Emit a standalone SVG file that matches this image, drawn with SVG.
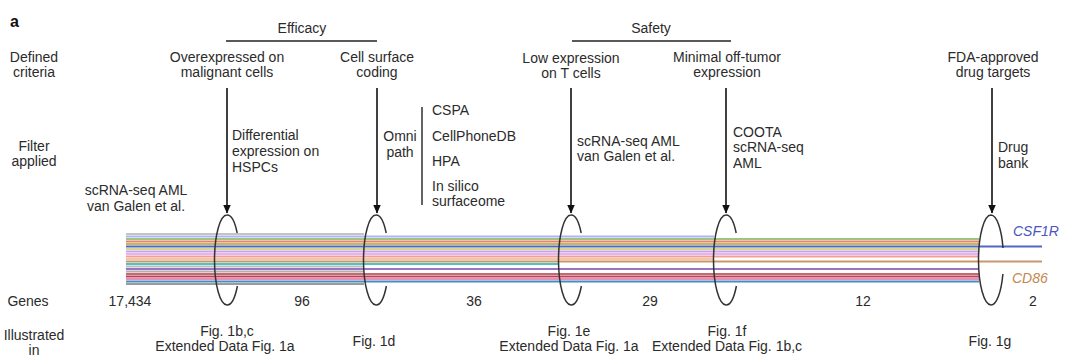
<svg xmlns="http://www.w3.org/2000/svg" width="1080" height="363" viewBox="0 0 1080 363">
<style>
text{font-family:"Liberation Sans",Arial,sans-serif;font-size:14px;fill:#2b2b2b}
.c{text-anchor:middle}
.arrow{stroke:#111;stroke-width:1.6;fill:none}
.ring{stroke:#333;stroke-width:1.5;fill:none}
.bar{stroke:#222;stroke-width:1.4}
.g{stroke-width:1.8;fill:none}
</style>
<defs>
<marker id="ah2" markerWidth="9" markerHeight="8" refX="8.5" refY="4" orient="auto" markerUnits="userSpaceOnUse">
<path d="M0,0 L9,4 L0,8 Z" fill="#111"/>
</marker>
</defs>
<rect width="1080" height="363" fill="#fff"/>
<text x="10" y="27" style="font-weight:bold;font-size:16px;fill:#111">a</text>

<g id="row-labels">
<text class="c" x="34" y="62">Defined</text><text class="c" x="34" y="77">criteria</text>
<text class="c" x="34" y="151">Filter</text><text class="c" x="34" y="166">applied</text>
<text class="c" x="28" y="306">Genes</text>
<text class="c" x="34" y="340">Illustrated</text><text class="c" x="34" y="355">in</text>
</g>

<g id="groups">
<text class="c" x="302" y="33">Efficacy</text>
<line x1="226" y1="41" x2="377" y2="41" class="bar"/>
<text class="c" x="651" y="33">Safety</text>
<line x1="572" y1="41" x2="731" y2="41" class="bar"/>
</g>

<g id="source">
<text class="c" x="136" y="195">scRNA-seq AML</text>
<text class="c" x="136" y="211">van Galen et al.</text>
</g>

<g id="genes-lines">
<line x1="126" y1="234" x2="364" y2="234" class="g" stroke="#c4c4c4"/>
<line x1="126" y1="236.5" x2="714" y2="236.5" class="g" stroke="#b0b4f4"/>
<line x1="126" y1="239" x2="979" y2="239" class="g" stroke="#9ec57f"/>
<line x1="126" y1="241.5" x2="979" y2="241.5" class="g" stroke="#ec806e"/>
<line x1="126" y1="244" x2="979" y2="244" class="g" stroke="#bcbc5c"/>
<line x1="126" y1="246.5" x2="1042" y2="246.5" class="g" stroke="#4f68c8"/>
<line x1="126" y1="249" x2="979" y2="249" class="g" stroke="#d6d68c"/>
<line x1="126" y1="251.5" x2="979" y2="251.5" class="g" stroke="#c9a3f2"/>
<line x1="126" y1="254" x2="979" y2="254" class="g" stroke="#e5b4f4"/>
<line x1="126" y1="256.5" x2="979" y2="256.5" class="g" stroke="#f3a090"/>
<line x1="126" y1="259" x2="714" y2="259" class="g" stroke="#f6c4aa"/>
<line x1="126" y1="261.5" x2="1042" y2="261.5" class="g" stroke="#c8986a"/>
<line x1="126" y1="264" x2="558" y2="264" class="g" stroke="#4fc3c3"/>
<line x1="126" y1="266.5" x2="364" y2="266.5" class="g" stroke="#bdbdbd"/>
<line x1="126" y1="269" x2="979" y2="269" class="g" stroke="#9a74c2"/>
<line x1="126" y1="271.5" x2="364" y2="271.5" class="g" stroke="#b0b0b0"/>
<line x1="126" y1="274" x2="979" y2="274" class="g" stroke="#c06c6c"/>
<line x1="126" y1="276.5" x2="979" y2="276.5" class="g" stroke="#c43c62"/>
<line x1="126" y1="279" x2="979" y2="279" class="g" stroke="#e494a8"/>
<line x1="126" y1="281.5" x2="979" y2="281.5" class="g" stroke="#4a8ac8"/>
<line x1="126" y1="284" x2="364" y2="284" class="g" stroke="#9a9a9a"/>
<text x="1013" y="236" style="font-style:italic;fill:#4a55c0">CSF1R</text>
<text x="1012" y="283" style="font-style:italic;fill:#c08a50">CD86</text>
</g>

<g id="connectors">
<line x1="227" y1="88" x2="227" y2="213" class="arrow" marker-end="url(#ah2)"/>
<line x1="377" y1="88" x2="377" y2="213" class="arrow" marker-end="url(#ah2)"/>
<line x1="571" y1="88" x2="571" y2="213" class="arrow" marker-end="url(#ah2)"/>
<line x1="726" y1="88" x2="726" y2="213" class="arrow" marker-end="url(#ah2)"/>
<line x1="992" y1="88" x2="992" y2="213" class="arrow" marker-end="url(#ah2)"/>
</g>

<g id="filter-1">
<text class="c" x="227" y="62">Overexpressed on</text>
<text class="c" x="227" y="77">malignant cells</text>
<text x="232" y="140">Differential</text>
<text x="232" y="156">expression on</text>
<text x="232" y="172">HSPCs</text>
<path class="ring" d="M227,215 A12.5,45 0 0 0 227,305 M227,215 A12.5,45 0 0 1 237.2,233 M237.4,286 A12.5,45 0 0 1 227,305"/>
<text class="c" x="130" y="306">17,434</text>
<text class="c" x="227" y="336">Fig. 1b,c</text>
<text class="c" x="225" y="351">Extended Data Fig. 1a</text>
</g>

<g id="filter-2">
<text class="c" x="377" y="62">Cell surface</text>
<text class="c" x="377" y="77">coding</text>
<text class="c" x="400" y="141">Omni</text>
<text class="c" x="400" y="157">path</text>
<line x1="422" y1="107" x2="422" y2="205" class="bar"/>
<text x="432" y="115">CSPA</text>
<text x="432" y="141">CellPhoneDB</text>
<text x="432" y="166">HPA</text>
<text x="432" y="191">In silico</text>
<text x="432" y="206">surfaceome</text>
<path class="ring" d="M376,215 A12.5,45 0 0 0 376,305 M376,215 A12.5,45 0 0 1 386.2,233 M386.4,286 A12.5,45 0 0 1 376,305"/>
<text class="c" x="302" y="306">96</text>
<text class="c" x="374" y="346">Fig. 1d</text>
</g>

<g id="filter-3">
<text class="c" x="571" y="63">Low expression</text>
<text class="c" x="571" y="78">on T cells</text>
<text x="577" y="146">scRNA-seq AML</text>
<text x="577" y="161">van Galen et al.</text>
<path class="ring" d="M571,215 A12.5,45 0 0 0 571,305 M571,215 A12.5,45 0 0 1 581.2,233 M581.4,286 A12.5,45 0 0 1 571,305"/>
<text class="c" x="474" y="306">36</text>
<text class="c" x="569" y="336">Fig. 1e</text>
<text class="c" x="569" y="351">Extended Data Fig. 1a</text>
</g>

<g id="filter-4">
<text class="c" x="727" y="62">Minimal off-tumor</text>
<text class="c" x="727" y="77">expression</text>
<text x="733" y="137">COOTA</text>
<text x="733" y="152">scRNA-seq</text>
<text x="733" y="168">AML</text>
<path class="ring" d="M726,215 A12.5,45 0 0 0 726,305 M726,215 A12.5,45 0 0 1 736.2,233 M736.4,286 A12.5,45 0 0 1 726,305"/>
<text class="c" x="650" y="306">29</text>
<text class="c" x="727" y="336">Fig. 1f</text>
<text class="c" x="727" y="351">Extended Data Fig. 1b,c</text>
</g>

<g id="filter-5">
<text class="c" x="993" y="62">FDA-approved</text>
<text class="c" x="993" y="77">drug targets</text>
<text x="998" y="152">Drug</text>
<text x="998" y="168">bank</text>
<path class="ring" d="M991,215 A12.5,45 0 0 0 991,305 M991,215 A12.5,45 0 0 1 1003,248 M1002.9,274 A12.5,45 0 0 1 991,305"/>
<text class="c" x="863" y="306">12</text>
<text class="c" x="1033" y="306">2</text>
<text class="c" x="990" y="346">Fig. 1g</text>
</g>
</svg>
